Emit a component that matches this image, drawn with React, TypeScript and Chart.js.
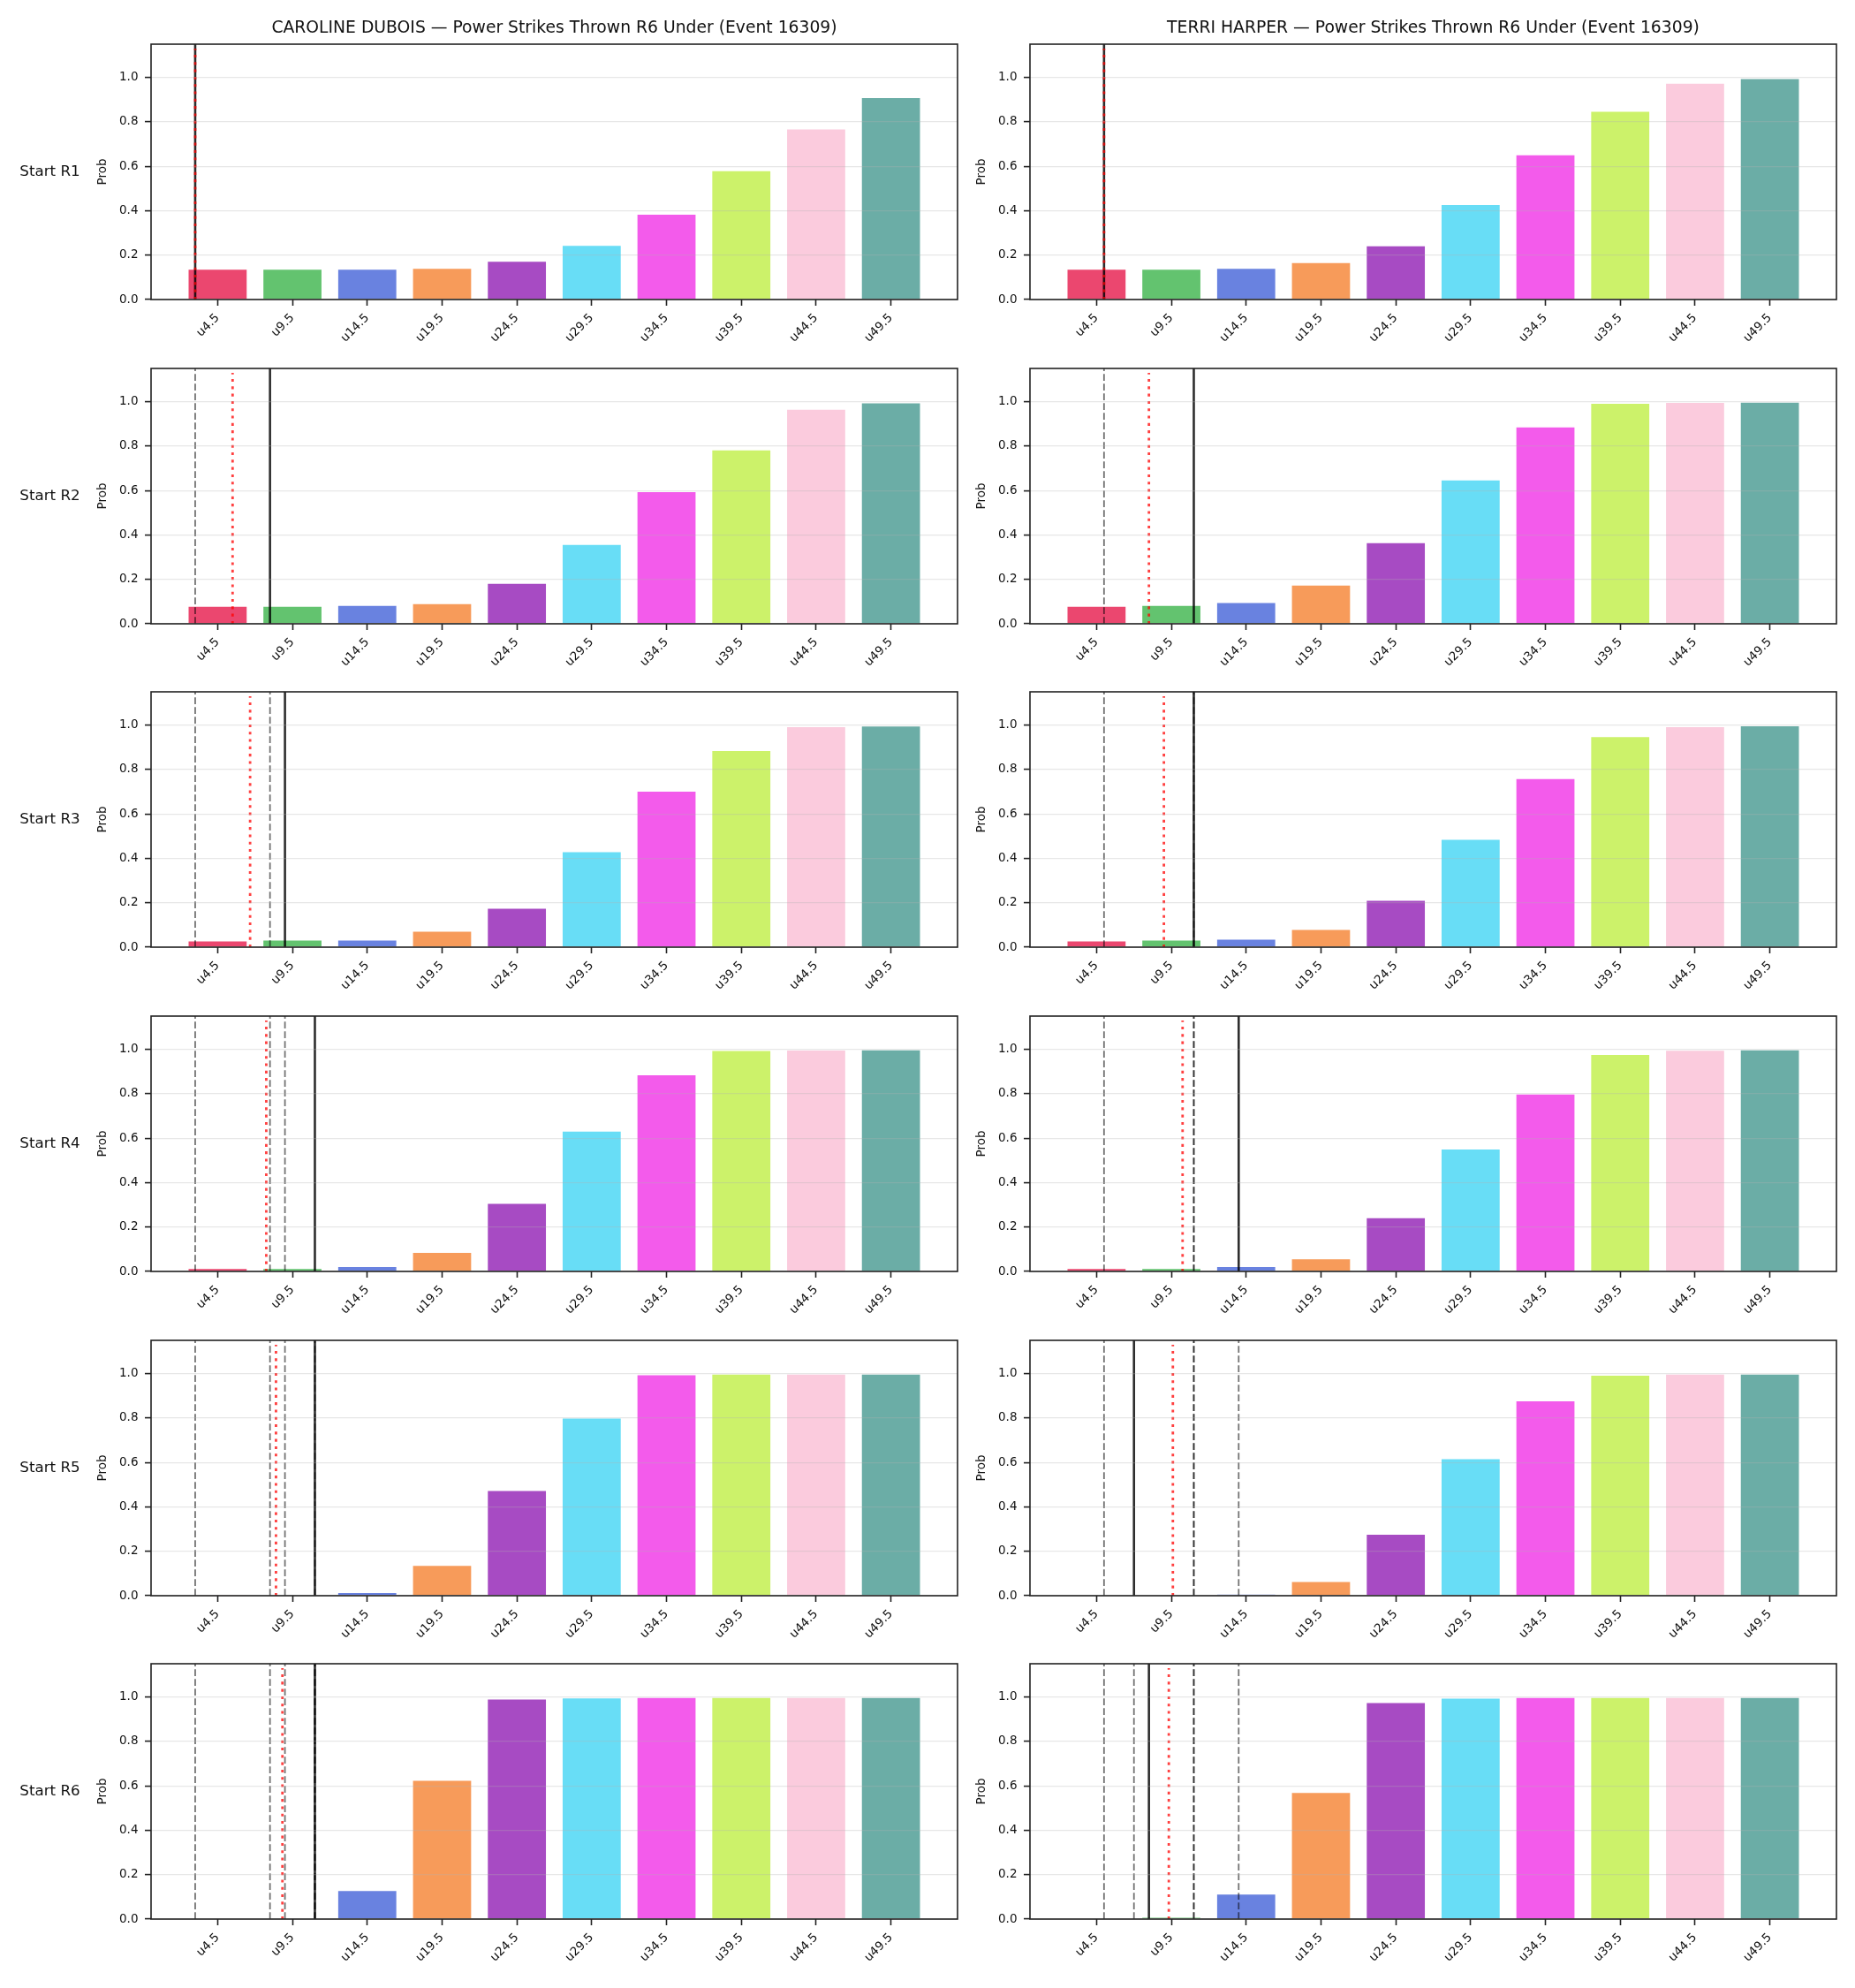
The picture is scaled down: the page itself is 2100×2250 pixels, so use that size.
import React, { useEffect, useRef } from "react";
import { Chart, registerables } from "chart.js";

Chart.register(...registerables);

const FONT = '"DejaVu Sans", "Liberation Sans", sans-serif';
Chart.defaults.font.family = FONT;

// ---- data ----
const FIGHTERS = ["CAROLINE DUBOIS", "TERRI HARPER"];
const MARKET = "Power Strikes Thrown R6 Under";
const EVENT_ID = 16309;
const ROUND_LABELS = ["Start R1", "Start R2", "Start R3", "Start R4", "Start R5", "Start R6"];
const THRESHOLDS = [4.5, 9.5, 14.5, 19.5, 24.5, 29.5, 34.5, 39.5, 44.5, 49.5];
const THRESHOLD_LABELS = ["u4.5", "u9.5", "u14.5", "u19.5", "u24.5", "u29.5", "u34.5", "u39.5", "u44.5", "u49.5"];
const Y_TICKS = [0, 0.2, 0.4, 0.6, 0.8, 1.0];

const BAR_COLORS = [
  "rgba(230,25,75,0.8)",
  "rgba(60,180,75,0.8)",
  "rgba(67,99,216,0.8)",
  "rgba(245,130,49,0.8)",
  "rgba(145,30,180,0.8)",
  "rgba(66,212,244,0.8)",
  "rgba(240,50,230,0.8)",
  "rgba(191,239,69,0.8)",
  "rgba(250,190,212,0.8)",
  "rgba(70,153,144,0.8)",
];

// P(under) per threshold, at the start of each round
const DUBOIS_R1 = [0.138, 0.138, 0.138, 0.142, 0.174, 0.246, 0.386, 0.582, 0.770, 0.911];
const DUBOIS_R2 = [0.081, 0.081, 0.085, 0.093, 0.184, 0.359, 0.597, 0.785, 0.968, 0.997];
const DUBOIS_R3 = [0.030, 0.034, 0.034, 0.074, 0.177, 0.432, 0.704, 0.887, 0.995, 0.998];
const DUBOIS_R4 = [0.015, 0.015, 0.024, 0.088, 0.308, 0.634, 0.887, 0.997, 0.999, 1.0];
const DUBOIS_R5 = [0.003, 0.002, 0.016, 0.138, 0.476, 0.802, 0.997, 1.0, 1.0, 1.0];
const DUBOIS_R6 = [0.0, 0.002, 0.130, 0.627, 0.993, 0.998, 1.0, 1.0, 1.0, 1.0];

const HARPER_R1 = [0.138, 0.138, 0.142, 0.168, 0.244, 0.430, 0.654, 0.850, 0.976, 0.997];
const HARPER_R2 = [0.081, 0.085, 0.097, 0.176, 0.367, 0.650, 0.888, 0.995, 0.999, 1.0];
const HARPER_R3 = [0.030, 0.034, 0.038, 0.082, 0.213, 0.487, 0.761, 0.950, 0.995, 0.999];
const HARPER_R4 = [0.015, 0.015, 0.024, 0.059, 0.244, 0.553, 0.801, 0.979, 0.998, 1.0];
const HARPER_R5 = [0.0, 0.002, 0.007, 0.066, 0.279, 0.619, 0.879, 0.995, 1.0, 1.0];
const HARPER_R6 = [0.0, 0.009, 0.114, 0.572, 0.977, 0.997, 1.0, 1.0, 1.0, 1.0];

// strike marks per round (solid = current round, dashed = earlier rounds) and running average (red)
const DUBOIS_MARKS = [3, 8, 9, 11, 11, 11];
const DUBOIS_AVG = [3, 5.5, 6.67, 7.75, 8.4, 8.83];
const HARPER_MARKS = [5, 11, 11, 14, 7, 8];
const HARPER_AVG = [5, 8, 9, 10.25, 9.6, 9.33];

const PROBS = [
  [DUBOIS_R1, DUBOIS_R2, DUBOIS_R3, DUBOIS_R4, DUBOIS_R5, DUBOIS_R6],
  [HARPER_R1, HARPER_R2, HARPER_R3, HARPER_R4, HARPER_R5, HARPER_R6],
];
const MARKS = [DUBOIS_MARKS, HARPER_MARKS];
const AVGS = [DUBOIS_AVG, HARPER_AVG];

// ---- layout ----
const X_MIN = 0.05;
const X_MAX = 53.95;
const Y_MAX = 1.15;
const RED_TOP = 1.13;
const TOP_PAD = 50;
const AXES_H = 289;
const X_AXIS_H = 70;
const CANVAS_H = TOP_PAD + AXES_H + X_AXIS_H;
const AXES_W = 913;
const ROW_TOPS = [50, 417, 783, 1150, 1517, 1883];
const COLUMNS = [
  { canvasLeft: 0, canvasW: 1095, yAxisW: 171 },
  { canvasLeft: 1095, canvasW: 1005, yAxisW: 71 },
];
const INK = "#111";

const framePlugin = {
  id: "frame",
  afterDraw(chart: any) {
    const { ctx, chartArea: a } = chart;
    ctx.save();
    ctx.strokeStyle = "#222";
    ctx.lineWidth = 1.6;
    ctx.strokeRect(a.left, a.top, a.right - a.left, a.bottom - a.top);
    ctx.restore();
  },
};

function makeTextPlugin(col: number, row: number) {
  return {
    id: "panelText",
    afterDraw(chart: any) {
      const { ctx, chartArea: a } = chart;
      const midY = (a.top + a.bottom) / 2;
      ctx.save();
      ctx.fillStyle = INK;

      // y-axis label
      ctx.save();
      ctx.font = `13.5px ${FONT}`;
      ctx.translate(a.left - 55, midY);
      ctx.rotate(-Math.PI / 2);
      ctx.textAlign = "center";
      ctx.textBaseline = "middle";
      ctx.fillText("Prob", 0, 0);
      ctx.restore();

      // row label on the left column
      if (col === 0) {
        ctx.font = `16.7px ${FONT}`;
        ctx.textAlign = "center";
        ctx.textBaseline = "middle";
        ctx.fillText(ROUND_LABELS[row], 56.5, midY);
      }

      // column title above the first row
      if (row === 0) {
        ctx.font = `18.75px ${FONT}`;
        ctx.textAlign = "center";
        ctx.textBaseline = "alphabetic";
        ctx.fillText(`${FIGHTERS[col]} — ${MARKET} (Event ${EVENT_ID})`, (a.left + a.right) / 2, a.top - 13);
      }
      ctx.restore();
    },
  };
}

function vline(x: number, top: number, color: string, width: number, dash: number[], order: number) {
  return {
    type: "line",
    data: [
      { x, y: 0 },
      { x, y: top },
    ],
    borderColor: color,
    borderWidth: width,
    borderDash: dash,
    pointRadius: 0,
    pointHoverRadius: 0,
    fill: false,
    tension: 0,
    order,
  };
}

function buildConfig(col: number, row: number): any {
  const probs = PROBS[col][row];
  const marks = MARKS[col];
  const datasets: any[] = [
    {
      type: "bar",
      data: THRESHOLDS.map((t, i) => ({ x: t, y: probs[i] })),
      backgroundColor: BAR_COLORS,
      borderColor: "rgba(255,255,255,0.9)",
      borderWidth: 1,
      barPercentage: 0.8,
      categoryPercentage: 1.0,
      order: 10,
    },
  ];
  for (let k = 0; k < row; k++) {
    datasets.push(vline(marks[k], Y_MAX, "rgba(0,0,0,0.55)", 1.8, [7.7, 3.3], 3));
  }
  datasets.push(vline(marks[row], Y_MAX, "rgba(0,0,0,0.82)", 2.6, [], 2));
  datasets.push(vline(AVGS[col][row], RED_TOP, "rgba(255,0,0,0.75)", 2.8, [3.1, 5.2], 1));

  const geo = COLUMNS[col];
  const tickFont = { family: FONT, size: 13.5 };

  return {
    type: "bar",
    data: { datasets },
    options: {
      responsive: false,
      animation: false,
      devicePixelRatio: 1,
      events: [],
      layout: {
        padding: { top: TOP_PAD, left: 0, bottom: 0, right: geo.canvasW - geo.yAxisW - AXES_W },
      },
      plugins: { legend: { display: false }, tooltip: { enabled: false }, title: { display: false } },
      scales: {
        x: {
          type: "linear",
          min: X_MIN,
          max: X_MAX,
          offset: false,
          afterBuildTicks: (s: any) => {
            s.ticks = THRESHOLDS.map((v) => ({ value: v }));
          },
          afterFit: (s: any) => {
            s.height = X_AXIS_H;
          },
          ticks: {
            autoSkip: false,
            minRotation: 45,
            maxRotation: 45,
            padding: 6,
            color: INK,
            font: tickFont,
            callback: (v: number) => {
              const i = THRESHOLDS.indexOf(Number(v));
              return i >= 0 ? THRESHOLD_LABELS[i] : "";
            },
          },
          grid: {
            offset: false,
            drawOnChartArea: false,
            drawTicks: true,
            tickLength: 7,
            tickColor: "#222",
            tickWidth: 1.6,
          },
          border: { display: false },
        },
        y: {
          type: "linear",
          min: 0,
          max: Y_MAX,
          afterBuildTicks: (s: any) => {
            s.ticks = Y_TICKS.map((v) => ({ value: v }));
          },
          afterFit: (s: any) => {
            s.width = geo.yAxisW;
          },
          ticks: {
            padding: 7.5,
            color: INK,
            font: tickFont,
            callback: (v: number) => Number(v).toFixed(1),
          },
          grid: {
            color: "rgba(176,176,176,0.3)",
            lineWidth: 1.2,
            z: 1,
            drawTicks: true,
            tickLength: 7,
            tickColor: "#222",
            tickWidth: 1.6,
          },
          border: { display: false },
        },
      },
    },
    plugins: [framePlugin, makeTextPlugin(col, row)],
  };
}

function Panel({ col, row }: { col: number; row: number }) {
  const ref = useRef<HTMLCanvasElement>(null);
  useEffect(() => {
    if (!ref.current) return;
    const chart = new Chart(ref.current, buildConfig(col, row));
    return () => chart.destroy();
  }, [col, row]);
  const geo = COLUMNS[col];
  return (
    <canvas
      ref={ref}
      width={geo.canvasW}
      height={CANVAS_H}
      style={{
        position: "absolute",
        left: geo.canvasLeft,
        top: ROW_TOPS[row] - TOP_PAD,
        width: geo.canvasW,
        height: CANVAS_H,
      }}
    />
  );
}

export default function App() {
  const panels: React.ReactNode[] = [];
  for (let row = 0; row < ROUND_LABELS.length; row++) {
    for (let col = 0; col < FIGHTERS.length; col++) {
      panels.push(<Panel key={`${col}-${row}`} col={col} row={row} />);
    }
  }
  return (
    <div
      style={{
        position: "absolute",
        left: 0,
        top: 0,
        width: 2100,
        height: 2250,
        background: "#ffffff",
        overflow: "hidden",
      }}
    >
      {panels}
    </div>
  );
}
